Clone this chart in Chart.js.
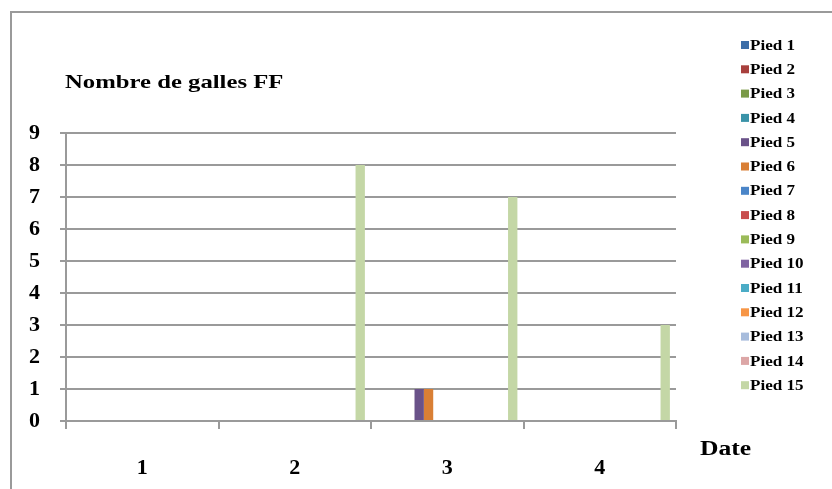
<!DOCTYPE html>
<html>
<head>
<meta charset="utf-8">
<script src="https://cdn.jsdelivr.net/npm/chart.js@4"></script>
<style>
  html, body { margin: 0; padding: 0; background: #fff; }
  #wrap { width: 832px; height: 489px; position: relative; }
</style>
</head>
<body>
<div id="wrap"><canvas id="myChart" width="832" height="489"></canvas></div>
<script>
const categories = ["1", "2", "3", "4"];
const seriesLabels = [
  "Pied 1", "Pied 2", "Pied 3", "Pied 4", "Pied 5",
  "Pied 6", "Pied 7", "Pied 8", "Pied 9", "Pied 10",
  "Pied 11", "Pied 12", "Pied 13", "Pied 14", "Pied 15",
];
const seriesValues = [
  [0, 0, 0, 0], // Pied 1
  [0, 0, 0, 0], // Pied 2
  [0, 0, 0, 0], // Pied 3
  [0, 0, 0, 0], // Pied 4
  [0, 0, 1, 0], // Pied 5
  [0, 0, 1, 0], // Pied 6
  [0, 0, 0, 0], // Pied 7
  [0, 0, 0, 0], // Pied 8
  [0, 0, 0, 0], // Pied 9
  [0, 0, 0, 0], // Pied 10
  [0, 0, 0, 0], // Pied 11
  [0, 0, 0, 0], // Pied 12
  [0, 0, 0, 0], // Pied 13
  [0, 0, 0, 0], // Pied 14
  [0, 8, 7, 3], // Pied 15
];
const yTicks = [0, 1, 2, 3, 4, 5, 6, 7, 8, 9];

const colors = [
  "#3d6ea8", "#a8403d", "#7a9a48", "#3a93a8", "#6a5289",
  "#d97f35", "#4a85c8", "#c84d4d", "#9bbb59", "#8064a2",
  "#4bacc6", "#f79646", "#a7bcdc", "#dca6a6", "#c4d7a6",
];

const serif = "'Liberation Serif', 'Times New Roman', serif";
const gridColor = "#9a9a9a";

// text a bit wider than the font, like the original picture
function wideText(c, text, x, y, sx) {
  c.save();
  c.translate(x, y);
  c.scale(sx, 1);
  c.fillText(text, 0, 0);
  c.restore();
}

// frame, title, axis name and legend drawn on the canvas
const extras = {
  id: "extras",
  beforeDraw(chart) {
    const c = chart.ctx;
    c.save();
    c.strokeStyle = "#9a9a9a";
    c.lineWidth = 2;
    c.strokeRect(11, 12, 900, 600);
    c.restore();
  },
  afterDraw(chart) {
    const c = chart.ctx;
    c.save();
    c.fillStyle = "#000";
    c.textBaseline = "middle";
    c.font = "bold 19px " + serif;
    wideText(c, "Nombre de galles FF", 65, 83, 1.3);
    c.font = "bold 20px " + serif;
    wideText(c, "Date", 700, 450, 1.28);

    c.font = "bold 14px " + serif;
    chart.data.datasets.forEach((ds, i) => {
      const y = 45 + i * 24.3;
      c.fillStyle = ds.backgroundColor;
      c.fillRect(741, y - 4, 8, 8);
      c.fillStyle = "#000";
      wideText(c, ds.label, 750, y + 1, 1.22);
    });
    c.restore();
  },
};

const ctx = document.getElementById("myChart");

new Chart(ctx, {
  type: "bar",
  data: {
    labels: categories,
    datasets: seriesLabels.map((label, i) => ({
      label: label,
      data: seriesValues[i],
      backgroundColor: colors[i],
      borderWidth: 0,
      categoryPercentage: 0.92,
      barPercentage: 1,
    })),
  },
  options: {
    responsive: false,
    animation: false,
    layout: { padding: { top: 133, right: 156, bottom: 0, left: 0 } },
    plugins: {
      legend: { display: false },
      tooltip: { enabled: false },
    },
    scales: {
      x: {
        afterFit: (scale) => { scale.height = 68; },
        grid: {
          offset: true,
          drawOnChartArea: false,
          drawTicks: true,
          tickLength: 8,
          color: gridColor,
          lineWidth: 2,
        },
        border: { color: gridColor, width: 2 },
        ticks: {
          color: "#000",
          padding: 26,
          font: { family: serif, size: 22, weight: "bold" },
        },
      },
      y: {
        min: 0,
        max: 9,
        afterFit: (scale) => { scale.width = 66; },
        afterBuildTicks: (scale) => {
          scale.ticks = yTicks.map((v) => ({ value: v }));
        },
        grid: {
          color: gridColor,
          lineWidth: 2,
          tickLength: 6,
        },
        border: { color: gridColor, width: 2 },
        ticks: {
          color: "#000",
          padding: 20,
          font: { family: serif, size: 22, weight: "bold" },
        },
      },
    },
  },
  plugins: [extras],
});
</script>
</body>
</html>
